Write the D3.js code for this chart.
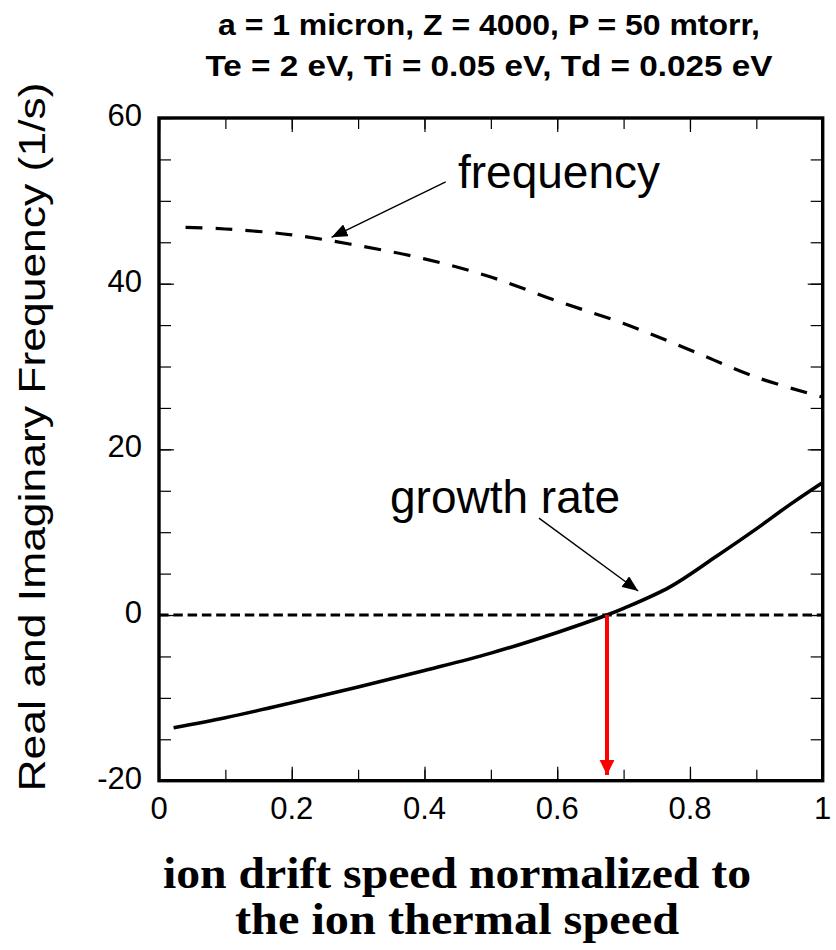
<!DOCTYPE html>
<html>
<head>
<meta charset="utf-8">
<script src="https://cdn.jsdelivr.net/npm/d3@7"></script>
<style>
  body { margin: 0; background: #fff; }
  svg text { fill: #000; }
</style>
</head>
<body>
<div id="chart"></div>
<script>
// values
var freqX = [0.04, 0.1, 0.2, 0.3, 0.4, 0.5, 0.6, 0.7, 0.8, 0.9, 1.0];
var freqY = [46.8, 46.6, 45.9, 44.6, 43.0, 40.8, 37.9, 35.2, 32.0, 28.7, 26.3];

var growthX = [0.022, 0.1, 0.2, 0.3, 0.4, 0.5, 0.6, 0.675, 0.7, 0.77, 0.84, 0.9, 0.95, 1.0];
var growthY = [-13.6, -12.4, -10.6, -8.7, -6.7, -4.6, -2.1, 0, 0.8, 3.4, 7.1, 10.4, 13.3, 16.0];

var xTicks = [0, 0.2, 0.4, 0.6, 0.8, 1];
var xTickLabels = ["0", "0.2", "0.4", "0.6", "0.8", "1"];
var yTicks = [-20, 0, 20, 40, 60];

var titleLines = ["a = 1 micron, Z = 4000, P = 50 mtorr,",
                  "Te = 2 eV, Ti = 0.05 eV, Td = 0.025 eV"];
var xTitleLines = ["ion drift speed normalized to", "the ion thermal speed"];
var yTitle = "Real and Imaginary Frequency (1/s)";

// annotation arrows, in data units: [x1, y1, x2 (tip), y2 (tip)]
var freqArrow = [0.432, 52.3, 0.26, 45.6];
var growthArrow = [0.5725, 11.7, 0.722, 2.9];
var thresholdX = 0.675;
var thresholdTip = -19.3;

// sizes
var W = 836, H = 950;
var plot = {left: 159, right: 822.7, top: 118, bottom: 780.7};

var svg = d3.select("#chart").append("svg")
    .attr("width", W)
    .attr("height", H);

var x = d3.scaleLinear().domain([0, 1]).range([plot.left, plot.right]);
var y = d3.scaleLinear().domain([-20, 60]).range([plot.bottom, plot.top]);

var defs = svg.append("defs");
function marker(id, color, len, wid) {
  defs.append("marker")
      .attr("id", id)
      .attr("markerUnits", "userSpaceOnUse")
      .attr("viewBox", "0 0 " + len + " " + wid)
      .attr("refX", len).attr("refY", wid / 2)
      .attr("markerWidth", len).attr("markerHeight", wid)
      .attr("orient", "auto")
    .append("path")
      .attr("d", "M0,0L" + len + "," + (wid / 2) + "L0," + wid + "Z")
      .attr("fill", color);
}
marker("blackHead", "#000", 16, 13);
marker("redHead", "#ff0000", 15, 15);

// ticks (inward, mirrored on all sides)
var minorX = d3.range(0, 1.0001, 0.1);
var minorY = d3.range(-20, 60.001, 5);

function tickAxis(axis, scale, vals, size) {
  return axis(scale).tickValues(vals).tickSize(-size).tickFormat("");
}

var gAx = svg.append("g").attr("class", "axes");
gAx.append("g").attr("transform", "translate(0," + plot.bottom + ")")
    .call(tickAxis(d3.axisBottom, x, minorX, 11));
gAx.append("g").attr("transform", "translate(0," + plot.bottom + ")")
    .call(tickAxis(d3.axisBottom, x, xTicks, 14));
gAx.append("g").attr("transform", "translate(0," + plot.top + ")")
    .call(tickAxis(d3.axisTop, x, minorX, 11));
gAx.append("g").attr("transform", "translate(0," + plot.top + ")")
    .call(tickAxis(d3.axisTop, x, xTicks, 14));
gAx.append("g").attr("transform", "translate(" + plot.left + ",0)")
    .call(tickAxis(d3.axisLeft, y, minorY, 12));
gAx.append("g").attr("transform", "translate(" + plot.left + ",0)")
    .call(tickAxis(d3.axisLeft, y, yTicks, 15));
gAx.append("g").attr("transform", "translate(" + plot.right + ",0)")
    .call(tickAxis(d3.axisRight, y, minorY, 12));
gAx.append("g").attr("transform", "translate(" + plot.right + ",0)")
    .call(tickAxis(d3.axisRight, y, yTicks, 15));
gAx.selectAll(".domain").remove();
gAx.selectAll(".tick line").attr("stroke", "#000").attr("stroke-width", 1.2);

// tick labels
svg.append("g").selectAll("text")
    .data(xTicks)
  .enter().append("text")
    .attr("x", function(d) { return x(d); })
    .attr("y", 819)
    .attr("text-anchor", "middle")
    .attr("font-family", "Liberation Sans, Arial, sans-serif")
    .attr("font-size", 31)
    .text(function(d, i) { return xTickLabels[i]; });

svg.append("g").selectAll("text")
    .data(yTicks)
  .enter().append("text")
    .attr("x", plot.left - 17)
    .attr("y", function(d) { return y(d) + 8; })
    .attr("text-anchor", "end")
    .attr("font-family", "Liberation Sans, Arial, sans-serif")
    .attr("font-size", 31)
    .text(function(d) { return d; });

// zero line
svg.append("line")
    .attr("x1", x(0)).attr("x2", x(1))
    .attr("y1", y(0)).attr("y2", y(0))
    .attr("stroke", "#000")
    .attr("stroke-width", 3)
    .attr("stroke-dasharray", "9.5,4.8");

var line = d3.line()
    .x(function(d) { return x(d[0]); })
    .y(function(d) { return y(d[1]); })
    .curve(d3.curveCatmullRom);

svg.append("path")
    .datum(d3.zip(freqX, freqY))
    .attr("d", line)
    .attr("fill", "none")
    .attr("stroke", "#000")
    .attr("stroke-width", 3.2)
    .attr("stroke-dasharray", "17,13");

svg.append("path")
    .datum(d3.zip(growthX, growthY))
    .attr("d", line)
    .attr("fill", "none")
    .attr("stroke", "#000")
    .attr("stroke-width", 3.6);

// red threshold arrow
svg.append("line")
    .attr("x1", x(thresholdX)).attr("x2", x(thresholdX))
    .attr("y1", y(0)).attr("y2", y(thresholdTip))
    .attr("stroke", "#ff0000")
    .attr("stroke-width", 4)
    .attr("marker-end", "url(#redHead)");

// frame
svg.append("rect")
    .attr("x", plot.left).attr("y", plot.top)
    .attr("width", plot.right - plot.left).attr("height", plot.bottom - plot.top)
    .attr("fill", "none")
    .attr("stroke", "#000")
    .attr("stroke-width", 3.4);

// annotations
[freqArrow, growthArrow].forEach(function(a) {
  svg.append("line")
      .attr("x1", x(a[0])).attr("y1", y(a[1]))
      .attr("x2", x(a[2])).attr("y2", y(a[3]))
      .attr("stroke", "#000")
      .attr("stroke-width", 1.4)
      .attr("marker-end", "url(#blackHead)");
});

svg.append("text")
    .attr("x", 458).attr("y", 188)
    .attr("font-family", "Liberation Sans, Arial, sans-serif")
    .attr("font-size", 46)
    .text("frequency");

svg.append("text")
    .attr("x", 390).attr("y", 513)
    .attr("font-family", "Liberation Sans, Arial, sans-serif")
    .attr("font-size", 46)
    .text("growth rate");

// title
var titleWidths = [542, 567];
svg.append("g").selectAll("text")
    .data(titleLines)
  .enter().append("text")
    .attr("x", 489)
    .attr("y", function(d, i) { return 34.5 + i * 41; })
    .attr("text-anchor", "middle")
    .attr("font-family", "Liberation Sans, Arial, sans-serif")
    .attr("font-weight", "bold")
    .attr("font-size", 30)
    .attr("textLength", function(d, i) { return titleWidths[i]; })
    .attr("lengthAdjust", "spacingAndGlyphs")
    .text(function(d) { return d; });

// x axis title
var xTitleWidths = [588, 444];
svg.append("g").selectAll("text")
    .data(xTitleLines)
  .enter().append("text")
    .attr("x", 457)
    .attr("y", function(d, i) { return 888 + i * 46; })
    .attr("text-anchor", "middle")
    .attr("font-family", "Liberation Serif, Times New Roman, serif")
    .attr("font-weight", "bold")
    .attr("font-size", 44)
    .attr("textLength", function(d, i) { return xTitleWidths[i]; })
    .attr("lengthAdjust", "spacingAndGlyphs")
    .text(function(d) { return d; });

// y axis title
svg.append("text")
    .attr("transform", "translate(45,437) rotate(-90)")
    .attr("text-anchor", "middle")
    .attr("font-family", "Liberation Sans, Arial, sans-serif")
    .attr("font-size", 37)
    .attr("textLength", 709)
    .attr("lengthAdjust", "spacingAndGlyphs")
    .text(yTitle);
</script>
</body>
</html>
